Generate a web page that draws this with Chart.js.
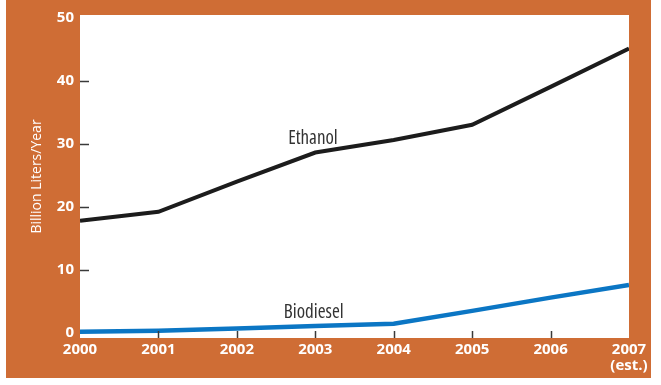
<!DOCTYPE html>
<html lang="en">
<head>
    <meta charset="UTF-8">
    <title>Biofuel Production</title>
    <script src="https://cdn.jsdelivr.net/npm/chart.js"></script>
    <style>
        html, body { margin: 0; padding: 0; background: #fff; }
        #wrap { width: 661px; height: 385px; position: relative; }
    </style>
</head>
<body>
    <div id="wrap"><canvas id="fuelChart"></canvas></div>

    <script>
        // production, billion liters per year
        const years = [2000, 2001, 2002, 2003, 2004, 2005, 2006, 2007];
        const ethanol = [17.8, 19.2, 24, 28.6, 30.6, 33, 39, 45.1];
        const biodiesel = [0.2, 0.35, 0.7, 1.1, 1.45, 3.5, 5.6, 7.6];
        const yTicks = [0, 10, 20, 30, 40, 50];
        const lineNames = ['Ethanol', 'Biodiesel'];
        // where the series names sit, in data units (year, value)
        const nameSpots = [[2002.97, 30.8], [2002.98, 3.3]];

        const ORANGE = '#cf6d35';

        // pick a narrow face if one is installed, else plain Liberation Sans at a smaller size
        function pickFont() {
            const c = document.createElement('canvas').getContext('2d');
            const sample = 'Billion Liters/Year 2000';
            c.font = "16px 'Liberation Sans'";
            const base = c.measureText(sample).width;
            const options = [
                { style: 'normal', family: "'Liberation Sans Narrow'" },
                { style: 'condensed', family: "'DejaVu Sans Condensed'" },
                { style: 'condensed', family: "'Open Sans'" },
                { style: 'condensed', family: "'Noto Sans'" },
                { style: 'condensed', family: "'DejaVu Sans'" }
            ];
            for (const o of options) {
                c.font = o.style + ' 16px ' + o.family;
                if (c.measureText(sample).width < base * 0.88) {
                    return { style: o.style, family: o.family + ", 'Liberation Sans', sans-serif", tick: 15, title: 14, name: 19 };
                }
            }
            return { style: 'normal', family: "'Liberation Sans', Arial, sans-serif", tick: 14, title: 13, name: 15 };
        }
        const F = pickFont();

        const points = arr => years.map((yr, i) => ({ x: yr, y: arr[i] }));

        // orange frame behind the white plotting area
        const framePlugin = {
            id: 'frame',
            beforeDraw(chart) {
                const { ctx, chartArea: a } = chart;
                ctx.save();
                ctx.fillStyle = ORANGE;
                ctx.fillRect(6, 0, 645, 378);
                ctx.fillStyle = '#ffffff';
                ctx.fillRect(a.left, a.top, a.right - a.left, a.bottom - a.top);
                ctx.restore();
            }
        };

        // short tick marks drawn inward from the left and bottom edges, plus series names
        const marksPlugin = {
            id: 'marks',
            afterDatasetsDraw(chart) {
                const { ctx, chartArea: a, scales } = chart;
                ctx.save();
                ctx.strokeStyle = '#3a3a3a';
                ctx.lineWidth = 1.5;
                yTicks.slice(1, -1).forEach(v => {
                    const py = Math.round(scales.y.getPixelForValue(v)) + 0.5;
                    ctx.beginPath();
                    ctx.moveTo(a.left, py);
                    ctx.lineTo(a.left + 9, py);
                    ctx.stroke();
                });
                years.slice(1, -1).forEach(yr => {
                    const px = Math.round(scales.x.getPixelForValue(yr)) + 0.5;
                    ctx.beginPath();
                    ctx.moveTo(px, a.bottom);
                    ctx.lineTo(px, a.bottom - 7);
                    ctx.stroke();
                });
                ctx.fillStyle = '#333333';
                ctx.font = F.style + ' ' + F.name + 'px ' + F.family;
                ctx.textAlign = 'center';
                ctx.textBaseline = 'middle';
                lineNames.forEach((name, i) => {
                    const [sx, sy] = nameSpots[i];
                    ctx.fillText(name, scales.x.getPixelForValue(sx), scales.y.getPixelForValue(sy));
                });
                ctx.restore();
            }
        };

        new Chart(document.getElementById('fuelChart'), {
            type: 'line',
            data: {
                datasets: [{
                    label: lineNames[0],
                    data: points(ethanol),
                    borderColor: '#1c1c1c',
                    borderWidth: 4,
                    pointRadius: 0,
                    tension: 0
                }, {
                    label: lineNames[1],
                    data: points(biodiesel),
                    borderColor: '#0b76c4',
                    borderWidth: 4.5,
                    pointRadius: 0,
                    tension: 0
                }]
            },
            options: {
                responsive: true,
                maintainAspectRatio: false,
                animation: false,
                layout: { padding: { left: 0, right: 32, top: 15, bottom: 0 } },
                plugins: { legend: { display: false }, tooltip: { enabled: false } },
                scales: {
                    x: {
                        type: 'linear',
                        min: 2000,
                        max: 2007,
                        afterBuildTicks: s => { s.ticks = years.map(v => ({ value: v })); },
                        afterFit: s => { s.height = 385 - 338; },
                        grid: { display: false, drawTicks: false },
                        border: { display: false },
                        ticks: {
                            color: '#ffffff',
                            padding: 4,
                            maxRotation: 0,
                            autoSkip: false,
                            font: { family: F.family, style: F.style, size: F.tick, weight: 'bold', lineHeight: 1.05 },
                            callback: v => v === 2007 ? ['2007', '(est.)'] : String(v)
                        }
                    },
                    y: {
                        min: -0.8,
                        max: 50.4,
                        afterBuildTicks: s => { s.ticks = yTicks.map(v => ({ value: v })); },
                        afterFit: s => { s.width = 80; },
                        grid: { display: false, drawTicks: false },
                        border: { display: false },
                        ticks: {
                            color: '#ffffff',
                            padding: 6,
                            font: { family: F.family, style: F.style, size: F.tick, weight: 'bold' }
                        },
                        title: {
                            display: true,
                            text: 'Billion Liters/Year',
                            color: '#ffffff',
                            padding: { top: 29, bottom: 0 },
                            font: { family: F.family, style: F.style, size: F.title }
                        }
                    }
                }
            },
            plugins: [framePlugin, marksPlugin]
        });
    </script>
</body>
</html>
